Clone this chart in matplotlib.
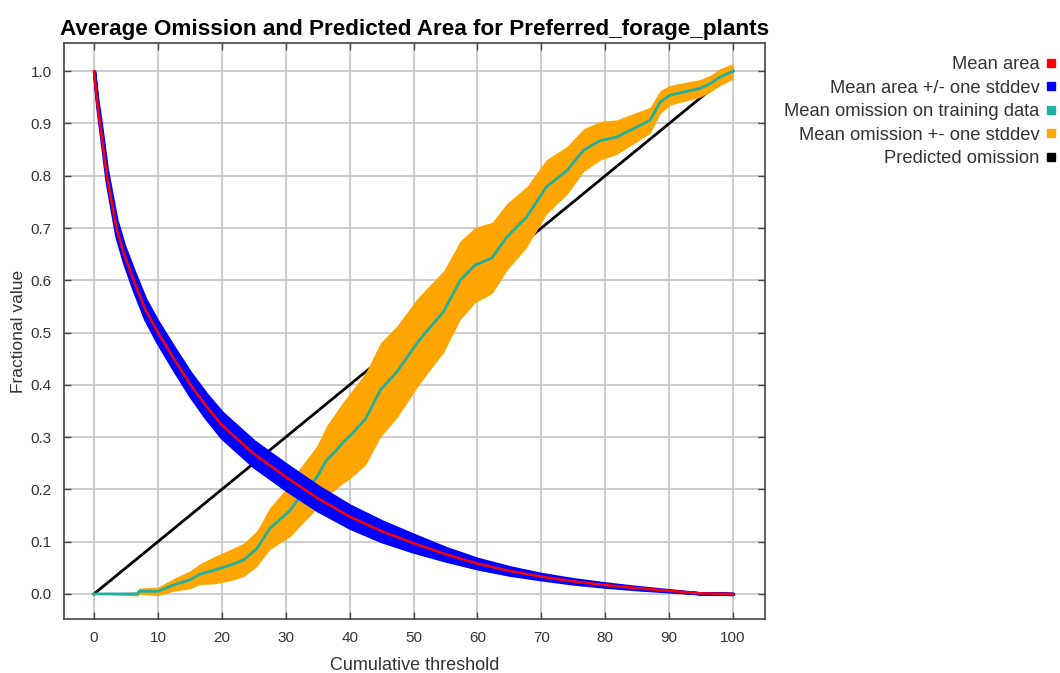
import numpy as np
import matplotlib
matplotlib.use("Agg")
import matplotlib.pyplot as plt
from matplotlib.lines import Line2D

plt.rcParams['font.family'] = ['Liberation Sans', 'DejaVu Sans']

# mean predicted area
area_x = [0, 0.5, 1, 2, 3.5, 4.7, 6.2, 8, 10, 12.5, 15, 17.5, 20, 25, 30, 35, 40, 45, 50,
          55, 60, 65, 70, 75, 80, 85, 90, 95, 100]
area_mean = [1.0, 0.94, 0.895, 0.80, 0.70, 0.65, 0.60, 0.545, 0.50, 0.45, 0.402, 0.36,
             0.323, 0.268, 0.224, 0.183, 0.148, 0.12, 0.097, 0.076, 0.058, 0.044, 0.033,
             0.024, 0.017, 0.011, 0.006, 0.001, 0.0]
area_sd = [0.0, 0.006, 0.01, 0.012, 0.015, 0.016, 0.018, 0.019, 0.02, 0.021, 0.022, 0.023,
           0.024, 0.024, 0.024, 0.023, 0.021, 0.019, 0.016, 0.012, 0.009, 0.007, 0.005,
           0.004, 0.003, 0.002, 0.001, 0.0, 0.0]

# mean omission on training data
om_x = [0, 6.9, 7, 10, 12.4, 15, 16.6, 18.7, 21.3, 23.4, 25.5, 27.5, 30.7, 32, 34.8, 36.4,
        37.5, 39, 40.1, 42.5, 44.8, 47.4, 50.5, 52.1, 54.7, 57.3, 59.6, 62.3, 64.6, 67.7,
        70.8, 74, 76.6, 79.2, 81.8, 84.4, 87, 88.6, 90.1, 92.2, 94.8, 96.4, 98, 100]
om_mean = [0.0, 0.0, 0.005, 0.005, 0.017, 0.027, 0.038, 0.045, 0.055, 0.065, 0.087, 0.125,
           0.16, 0.182, 0.222, 0.256, 0.269, 0.29, 0.303, 0.335, 0.39, 0.425, 0.479, 0.503,
           0.54, 0.6, 0.629, 0.643, 0.683, 0.721, 0.779, 0.81, 0.849, 0.867, 0.874, 0.89,
           0.906, 0.941, 0.954, 0.96, 0.967, 0.976, 0.989, 1.0]
om_sd = [0.0, 0.004, 0.006, 0.008, 0.012, 0.017, 0.02, 0.026, 0.03, 0.032, 0.034, 0.04,
         0.05, 0.055, 0.06, 0.066, 0.072, 0.078, 0.082, 0.088, 0.09, 0.088, 0.085, 0.082,
         0.078, 0.075, 0.072, 0.068, 0.064, 0.058, 0.052, 0.046, 0.041, 0.037, 0.033, 0.029,
         0.025, 0.022, 0.019, 0.018, 0.017, 0.016, 0.016, 0.015]

pred_x = [0, 100]
pred_y = [0.0, 1.0]

labels = ["Mean area", "Mean area +/- one stddev", "Mean omission on training data",
          "Mean omission +- one stddev", "Predicted omission"]
colors = ["#ff0000", "#0000ff", "#1fb0a0", "#ffa500", "#000000"]

area_mean = np.array(area_mean)
area_sd = np.array(area_sd)
om_mean = np.array(om_mean)
om_sd = np.array(om_sd)

fig = plt.figure(figsize=(10.6, 6.73), dpi=100)
ax = fig.add_axes([64 / 1060, 54 / 673, 701 / 1060, 576 / 673])

ax.plot(pred_x, pred_y, color=colors[4], lw=2, zorder=2)
ax.fill_between(om_x, om_mean - om_sd, om_mean + om_sd, color=colors[3], lw=0, zorder=3)
ax.plot(om_x, om_mean, color=colors[2], lw=2, zorder=4)
ax.fill_between(area_x, area_mean - area_sd, area_mean + area_sd, color=colors[1],
                lw=2.5, edgecolor=colors[1], zorder=5)
ax.plot(area_x, area_mean, color=colors[0], lw=1.8, zorder=6)

ax.set_xlim(-4.7, 105)
ax.set_ylim(-0.048, 1.054)
ax.set_xticks(range(0, 101, 10))
ax.set_yticks(np.arange(0, 1.01, 0.1))
ax.set_yticklabels([f"{v:.1f}" for v in np.arange(0, 1.01, 0.1)])
ax.grid(True, color="#c8c8c8", lw=1.3, zorder=0)
ax.set_axisbelow(True)
ax.tick_params(direction="in", length=5, width=1, color="#444444", labelsize=11,
               top=True, right=True, labelcolor="#333333", pad=9)
for s in ax.spines.values():
    s.set_color("#444444")
    s.set_linewidth(1.2)

ax.set_title("Average Omission and Predicted Area for Preferred_forage_plants",
             fontsize=16.2, fontweight="bold", pad=6)
ax.set_xlabel("Cumulative threshold", fontsize=13, color="#333333", labelpad=8)
ax.set_ylabel("Fractional value", fontsize=12.5, color="#333333", labelpad=3)

handles = [Line2D([], [], ls="none", marker="s", markersize=6, color=c) for c in colors]
fig.legend(handles, labels, loc="upper right", bbox_to_anchor=(1056 / 1060, 1 - 56 / 673),
           frameon=False, markerfirst=False, handlelength=0.5, handletextpad=0.4,
           labelspacing=0.36, fontsize=13.2, labelcolor="#333333", borderaxespad=0,
           borderpad=0)

fig.savefig("out.png", dpi=100)
